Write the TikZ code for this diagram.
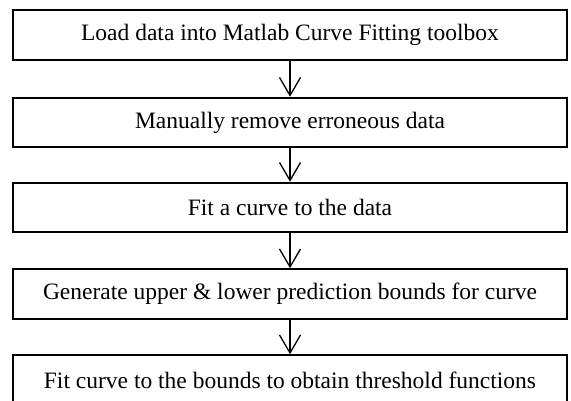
\documentclass[tikz,border=0pt]{standalone}
\usepackage{fontspec}
\setmainfont{Liberation Serif}
\usetikzlibrary{arrows.meta}
\begin{document}
\begin{tikzpicture}[x=1pt,y=1pt,
  stepbox/.style={draw=black, line width=2pt, rectangle,
    minimum width=554pt, minimum height=49.5pt, inner sep=0pt,
    font=\fontsize{23.5}{27}\selectfont},
  flow/.style={line width=1.3pt, -{Straight Barb[length=18pt,width=21pt,line width=1.3pt]}}]
  \useasboundingbox (0,0) rectangle (571,400);
  \clip (0,0) rectangle (571,400);
  \fill[white] (0,0) rectangle (571,400);
  % five process steps, top to bottom
  \node[stepbox] (load)  at (290,365)   {Load data into Matlab Curve Fitting toolbox};
  \node[stepbox] (clean) at (290,277.5) {Manually remove erroneous data};
  \node[stepbox] (fit)   at (290,192.5) {Fit a curve to the data};
  \node[stepbox] (bound) at (290,106)   {Generate upper \& lower prediction bounds for curve};
  \node[stepbox] (thr)   at (290,20)    {Fit curve to the bounds to obtain threshold functions};
  % connectors between consecutive steps
  \draw[flow] (load.south)  -- (clean.north);
  \draw[flow] (clean.south) -- (fit.north);
  \draw[flow] (fit.south)   -- (bound.north);
  \draw[flow] (bound.south) -- (thr.north);
\end{tikzpicture}
\end{document}
